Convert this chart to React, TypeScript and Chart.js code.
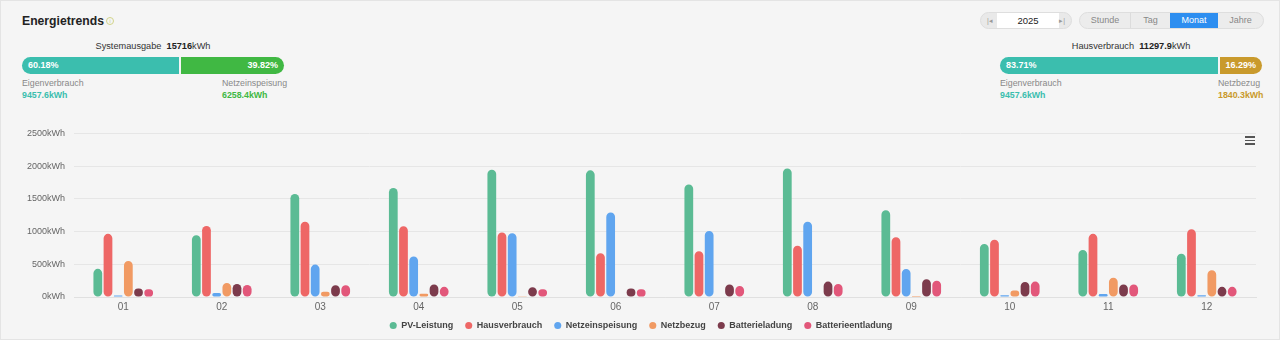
import React, { useEffect, useRef } from "react";
import { Chart, registerables } from "chart.js";

Chart.register(...registerables);

const categories = ["01", "02", "03", "04", "05", "06", "07", "08", "09", "10", "11", "12"];
const pvLeistung = [430, 945, 1575, 1665, 1945, 1935, 1720, 1965, 1325, 810, 720, 660];
const hausverbrauch = [965, 1085, 1150, 1080, 985, 670, 700, 785, 912, 875, 965, 1035];
const netzeinspeisung = [22, 60, 495, 620, 975, 1290, 1010, 1150, 428, 28, 45, 28];
const netzbezug = [550, 215, 82, 50, 12, 6, 0, 0, 16, 98, 295, 408];
const batterieladung = [128, 200, 180, 190, 150, 130, 190, 235, 272, 230, 190, 155];
const batterieentladung = [118, 185, 180, 155, 120, 118, 170, 200, 250, 235, 190, 155];
const yTicks = [0, 500, 1000, 1500, 2000, 2500];

const seriesNames = ["PV-Leistung", "Hausverbrauch", "Netzeinspeisung", "Netzbezug", "Batterieladung", "Batterieentladung"];
const seriesColors = ["#5bbb94", "#ee6766", "#60a5ef", "#f19a63", "#7c3b4c", "#e2577a"];

const FONT = "'Liberation Sans', Arial, Helvetica, sans-serif";

const legendShift = {
  id: "legendShift",
  afterLayout(chart: any) {
    const l = chart.legend;
    if (l) {
      l.top -= 8;
      l.bottom -= 8;
    }
  },
};

function ChartCanvas() {
  const ref = useRef<HTMLCanvasElement | null>(null);
  useEffect(() => {
    if (!ref.current) return;
    const values = [pvLeistung, hausverbrauch, netzeinspeisung, netzbezug, batterieladung, batterieentladung];
    const chart = new Chart(ref.current, {
      type: "bar",
      data: {
        labels: categories,
        datasets: values.map((v, i) => ({
          label: seriesNames[i],
          data: v,
          backgroundColor: seriesColors[i],
          borderRadius: 5,
          borderSkipped: false,
          categoryPercentage: 0.62,
          barPercentage: 0.86,
        })),
      },
      plugins: [legendShift],
      options: {
        responsive: false,
        animation: false,
        devicePixelRatio: 1,
        layout: { padding: { top: 14, right: 0, left: 0, bottom: 0 } },
        plugins: {
          tooltip: { enabled: false },
          legend: {
            position: "bottom",
            maxHeight: 24,
            labels: {
              usePointStyle: true,
              pointStyle: "circle",
              boxWidth: 7,
              boxHeight: 5,
              padding: 12,
              color: "#444",
              font: { family: FONT, size: 9, weight: "bold" },
            },
          },
        },
        scales: {
          x: {
            grid: { display: false, drawTicks: false },
            border: { display: true, color: "#e0e0e0" },
            ticks: { color: "#666", padding: 4, font: { family: FONT, size: 10 } },
          },
          y: {
            min: 0,
            max: 2500,
            afterFit: (s: any) => {
              s.width = 73;
            },
            afterBuildTicks: (s: any) => {
              s.ticks = yTicks.map((v) => ({ value: v }));
            },
            grid: { color: "#e6e6e6", drawTicks: false },
            border: { display: false },
            ticks: {
              color: "#666",
              padding: 9,
              font: { family: FONT, size: 9 },
              callback: (v: any) => v + "kWh",
            },
          },
          yRight: {
            position: "right",
            min: 0,
            max: 2500,
            afterFit: (s: any) => {
              s.width = 25;
            },
            grid: { display: false, drawTicks: false },
            border: { display: false },
            ticks: { display: false },
          },
        },
      },
    });
    return () => chart.destroy();
  }, []);
  return <canvas ref={ref} width={1280} height={222} style={{ display: "block" }} />;
}

function StatBar(props: {
  left: number;
  width: number;
  title: string;
  total: string;
  pctA: string;
  pctB: string;
  fracA: number;
  colorA: string;
  colorB: string;
  labelA: string;
  valA: string;
  labelB: string;
  valB: string;
  bLeft: number;
}) {
  const aw = Math.round(props.width * props.fracA) - 1;
  const small = 8.8;
  return (
    <div style={{ position: "absolute", left: props.left, top: 38, width: props.width, height: 62 }}>
      <div style={{ position: "absolute", top: 1, width: "100%", textAlign: "center", fontSize: 9.2, color: "#333", lineHeight: "13px" }}>
        {props.title}&nbsp;&nbsp;<b style={{ color: "#222" }}>{props.total.replace("kWh", "")}</b>kWh
      </div>
      <div style={{ position: "absolute", top: 18, left: 0, width: aw, height: 17, background: props.colorA, borderRadius: "9px 0 0 9px" }}>
        <span style={{ position: "absolute", left: 6, top: 0, lineHeight: "17px", fontSize: 9, fontWeight: 700, color: "#fff" }}>{props.pctA}</span>
      </div>
      <div style={{ position: "absolute", top: 18, left: aw + 2, width: props.width - aw - 2, height: 17, background: props.colorB, borderRadius: "0 9px 9px 0" }}>
        <span style={{ position: "absolute", right: 6, top: 0, lineHeight: "17px", fontSize: 9, fontWeight: 700, color: "#fff" }}>{props.pctB}</span>
      </div>
      <div style={{ position: "absolute", top: 38, left: 0, fontSize: small, color: "#888", lineHeight: "12px" }}>{props.labelA}</div>
      <div style={{ position: "absolute", top: 50, left: 0, fontSize: small, fontWeight: 700, color: props.colorA, lineHeight: "12px" }}>{props.valA}</div>
      <div style={{ position: "absolute", top: 38, left: props.bLeft, fontSize: small, color: "#888", lineHeight: "12px" }}>{props.labelB}</div>
      <div style={{ position: "absolute", top: 50, left: props.bLeft, fontSize: small, fontWeight: 700, color: props.colorB, lineHeight: "12px" }}>{props.valB}</div>
    </div>
  );
}

export default function App() {
  useEffect(() => {
    document.body.style.margin = "0";
  }, []);
  const segs = [
    { t: "Stunde", w: 50 },
    { t: "Tag", w: 40 },
    { t: "Monat", w: 48, active: true },
    { t: "Jahre", w: 45 },
  ];
  return (
    <div
      style={{
        position: "absolute",
        left: 0,
        top: 0,
        width: 1280,
        height: 340,
        background: "#f5f5f5",
        boxSizing: "border-box",
        border: "1px solid #e4e4e4",
        fontFamily: FONT,
        overflow: "hidden",
      }}
    >
      <div style={{ position: "absolute", left: 21, top: 11, fontSize: 12.2, fontWeight: 700, color: "#222", lineHeight: "18px" }}>
        Energietrends
      </div>
      <div
        style={{
          position: "absolute",
          left: 105,
          top: 16,
          width: 6,
          height: 6,
          borderRadius: "50%",
          border: "1px solid #d2d48a",
          color: "#c9cc7a",
          fontSize: 5,
          lineHeight: "6px",
          textAlign: "center",
        }}
      >
        i
      </div>

      {/* year picker */}
      <div style={{ position: "absolute", left: 979, top: 11, width: 92, height: 17, background: "#e9e9e9", borderRadius: 9, border: "1px solid #dedede", boxSizing: "border-box" }}>
        <span style={{ position: "absolute", left: 6, top: 0, fontSize: 7, lineHeight: "15px", color: "#999" }}>|◂</span>
        <div style={{ position: "absolute", left: 16, top: 0, width: 62, height: 15, background: "#fff", textAlign: "center", fontSize: 9.5, lineHeight: "15px", color: "#222" }}>2025</div>
        <span style={{ position: "absolute", right: 6, top: 0, fontSize: 7, lineHeight: "15px", color: "#999" }}>▸|</span>
      </div>

      {/* segmented buttons */}
      <div style={{ position: "absolute", left: 1078, top: 11, height: 17, display: "flex", borderRadius: 9, overflow: "hidden", border: "1px solid #dedede", boxSizing: "border-box", background: "#ececec" }}>
        {segs.map((s, i) => (
          <div
            key={s.t}
            style={{
              width: s.w,
              height: 15,
              lineHeight: "15px",
              textAlign: "center",
              fontSize: 9,
              color: s.active ? "#fff" : "#888",
              background: s.active ? "#2d8ef0" : "transparent",
              borderLeft: i > 0 && !s.active && !segs[i - 1].active ? "1px solid #dcdcdc" : "none",
              boxSizing: "border-box",
            }}
          >
            {s.t}
          </div>
        ))}
      </div>

      <StatBar
        left={21}
        width={262}
        title="Systemausgabe"
        total="15716kWh"
        pctA="60.18%"
        pctB="39.82%"
        fracA={0.6018}
        colorA="#3bbeae"
        colorB="#40b843"
        labelA="Eigenverbrauch"
        valA="9457.6kWh"
        labelB="Netzeinspeisung"
        valB="6258.4kWh"
        bLeft={200}
      />
      <StatBar
        left={999}
        width={262}
        title="Hausverbrauch"
        total="11297.9kWh"
        pctA="83.71%"
        pctB="16.29%"
        fracA={0.8371}
        colorA="#3bbeae"
        colorB="#c99a2c"
        labelA="Eigenverbrauch"
        valA="9457.6kWh"
        labelB="Netzbezug"
        valB="1840.3kWh"
        bLeft={218}
      />

      {/* toolbox menu icon */}
      <div style={{ position: "absolute", left: 1244, top: 135, width: 10 }}>
        {[0, 1, 2].map((i) => (
          <div key={i} style={{ position: "absolute", top: i * 3.5, width: 10, height: 1.6, background: "#555" }} />
        ))}
      </div>

      <div style={{ position: "absolute", left: 0, top: 118 }}>
        <ChartCanvas />
      </div>
    </div>
  );
}
